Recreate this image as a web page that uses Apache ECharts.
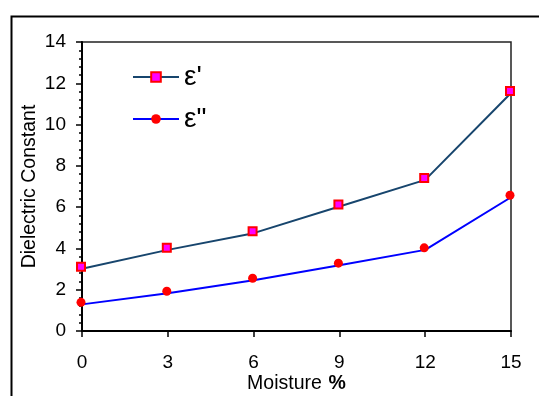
<!DOCTYPE html>
<html><head><meta charset="utf-8">
<script src="https://cdn.jsdelivr.net/npm/echarts@6/dist/echarts.min.js"></script>
<style>html,body{margin:0;padding:0;background:#fff}#c{width:539px;height:396px}</style>
</head><body><div id="c"></div>
<script>
const moisture = [0, 3, 6, 9, 12, 15];
const epsReal = [3.02, 3.93, 4.74, 6.03, 7.32, 11.53];
const epsImag = [1.29, 1.83, 2.46, 3.19, 3.93, 6.48];
const seriesNames = ["\u03b5'", '\u03b5"'];
const xTitle = 'Moisture';
const yTitle = 'Dielectric Constant';

const FONT = 'Liberation Sans, Arial, sans-serif';
const chart = echarts.init(document.getElementById('c'), null, {renderer: 'canvas'});
chart.setOption({
  animation: false,
  backgroundColor: '#fff',
  textStyle: {fontFamily: FONT},
  graphic: [{
    type: 'rect', left: 9, top: 14, z: 100, silent: true,
    shape: {x: 0, y: 0, width: 620, height: 520},
    style: {fill: 'none', stroke: '#000', lineWidth: 2}
  }],
  grid: {left: 82, right: 28, top: 42, bottom: 65, show: true, borderColor: '#222', borderWidth: 1.5, containLabel: false, outerBoundsMode: 'none'},
  legend: {
    orient: 'vertical', left: 127, top: 58, itemWidth: 46, itemHeight: 12, itemGap: 14,
    textStyle: {fontSize: 28, fontFamily: FONT, color: '#000', padding: [0,0,0,0]},
    data: seriesNames
  },
  xAxis: {
    type: 'value', min: 0, max: 15, interval: 3,
    name: '{a|' + xTitle + '}  {b|%}', nameLocation: 'middle', nameGap: 43, nameMoveOverlap: false,
    nameTextStyle: {rich: {a: {fontSize: 19.5, fontFamily: FONT, color: '#000'}, b: {fontSize: 19.5, fontWeight: 'bold', fontFamily: FONT, color: '#000'}}},
    axisLine: {lineStyle: {color: '#000', width: 2}},
    axisTick: {show: true, length: 6, lineStyle: {color: '#000', width: 1.5}},
    axisLabel: {fontSize: 19, color: '#000', margin: 22, fontFamily: FONT},
    splitLine: {show: false}
  },
  yAxis: {
    type: 'value', min: 0, max: 14, interval: 2,
    name: yTitle, nameLocation: 'middle', nameGap: 42, nameMoveOverlap: false,
    nameTextStyle: {fontSize: 19.5, color: '#000', fontFamily: FONT},
    axisLine: {lineStyle: {color: '#000', width: 2}},
    axisTick: {show: true, length: 6, lineStyle: {color: '#000', width: 1.5}},
    minorTick: {show: true, splitNumber: 5, length: 3, lineStyle: {color: '#000', width: 1.5}},
    axisLabel: {fontSize: 19, color: '#000', margin: 16, fontFamily: FONT},
    splitLine: {show: false}
  },
  series: [
    {
      name: seriesNames[0], type: 'line',
      data: moisture.map((x, i) => [x, epsReal[i]]),
      lineStyle: {color: '#17456d', width: 2},
      itemStyle: {color: '#ff00ff', borderColor: '#ff0000', borderWidth: 2},
      symbol: 'rect', symbolSize: 8, symbolOffset: [-1, -2], showAllSymbol: true
    },
    {
      name: seriesNames[1], type: 'line',
      data: moisture.map((x, i) => [x, epsImag[i]]),
      lineStyle: {color: '#0000ff', width: 2},
      itemStyle: {color: '#ff0000', borderColor: '#ff0000', borderWidth: 0},
      symbol: 'circle', symbolSize: 9, symbolOffset: [-1, -2], showAllSymbol: true
    }
  ]
});
</script></body></html>
